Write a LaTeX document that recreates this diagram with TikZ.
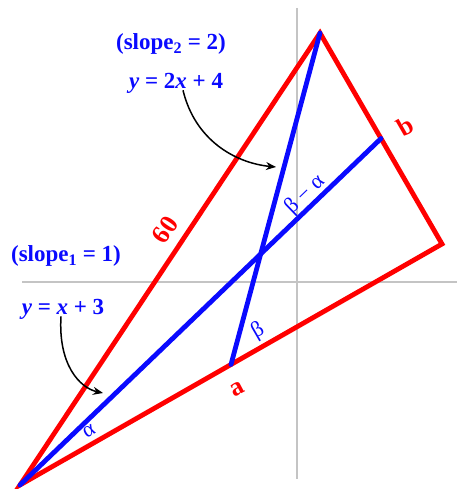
\documentclass[tikz,border=0pt]{standalone}
\usepackage{fontspec}
\setmainfont{Liberation Serif}
\usepackage{xcolor}
\definecolor{edge}{HTML}{FF0000}
\definecolor{cevian}{HTML}{0A0AFF}
\definecolor{axis}{HTML}{C4C4C4}
\usetikzlibrary{arrows.meta,calc}

\begin{document}
\begin{tikzpicture}[
  x=1pt,y=-1pt,
  >={Stealth[length=10pt,width=8pt]},
  every node/.style={align=center,inner sep=0pt},
  axisline/.style={draw=axis,line width=1.6pt},
  side/.style={draw=edge,line width=4.8pt,line join=miter},
  median/.style={draw=cevian,line width=4.8pt,line cap=round},
  lbl/.style={text=edge,font=\fontsize{26}{28}\selectfont\bfseries},
  eqn/.style={text=cevian,font=\fontsize{23}{25}\selectfont\bfseries},
  ang/.style={text=cevian,font=\fontsize{22}{24}\selectfont},
  pointer/.style={->,black,line width=1.5pt},
]
\useasboundingbox (0,0) rectangle (457,489);

% --- axes
\coordinate (ytop) at (297,8);
\coordinate (ybot) at (297,479);
\coordinate (xleft) at (22,282);
\coordinate (xright) at (457,282);
\draw[axisline] (ytop) -- (ybot);
\draw[axisline] (xleft) -- (xright);

% --- triangle corners, a and b are midpoints
\coordinate (P) at (20,485);
\coordinate (T) at (320,33);
\coordinate (R) at (442,244);
\coordinate (A) at ($(P)!0.5!(R)$);
\coordinate (B) at ($(T)!0.5!(R)$);

\draw[side] (P) -- (T) -- (R) -- cycle;
\draw[median] (P) -- (B);
\draw[median] (A) -- (T);

% --- side labels
\node[lbl,rotate=56] (sixty) at (165,230) {60};
\node[lbl,rotate=28] (alab) at (237,389) {a};
\node[lbl,rotate=30] (blab) at (405,126) {b};

% --- angle labels
\node[ang,rotate=30] (alpha) at (89,431) {α};
\node[ang,rotate=30] (beta) at (258,331) {β};
\node[ang,rotate=44] (diff) at (305,195) {β − α};

% --- equations
\node[eqn] (slope2) at (171,44) {(slope\textsubscript{2} = 2)};
\node[eqn] (eq2) at (176,83) {\textit{y} = 2\textit{x} + 4};
\node[eqn] (slope1) at (66,256) {(slope\textsubscript{1} = 1)};
\node[eqn] (eq1) at (63,309) {\textit{y} = \textit{x} + 3};

% --- pointers
\coordinate (tip2) at (276,167);
\coordinate (tip1) at (103,393);
\draw[pointer] ([xshift=7pt,yshift=3pt]eq2.south)
  .. controls (195,140) and (235,163) .. (tip2);
\draw[pointer] ([xshift=-2pt,yshift=3pt]eq1.south)
  .. controls (58,365) and (80,388) .. (tip1);

\end{tikzpicture}
\end{document}
